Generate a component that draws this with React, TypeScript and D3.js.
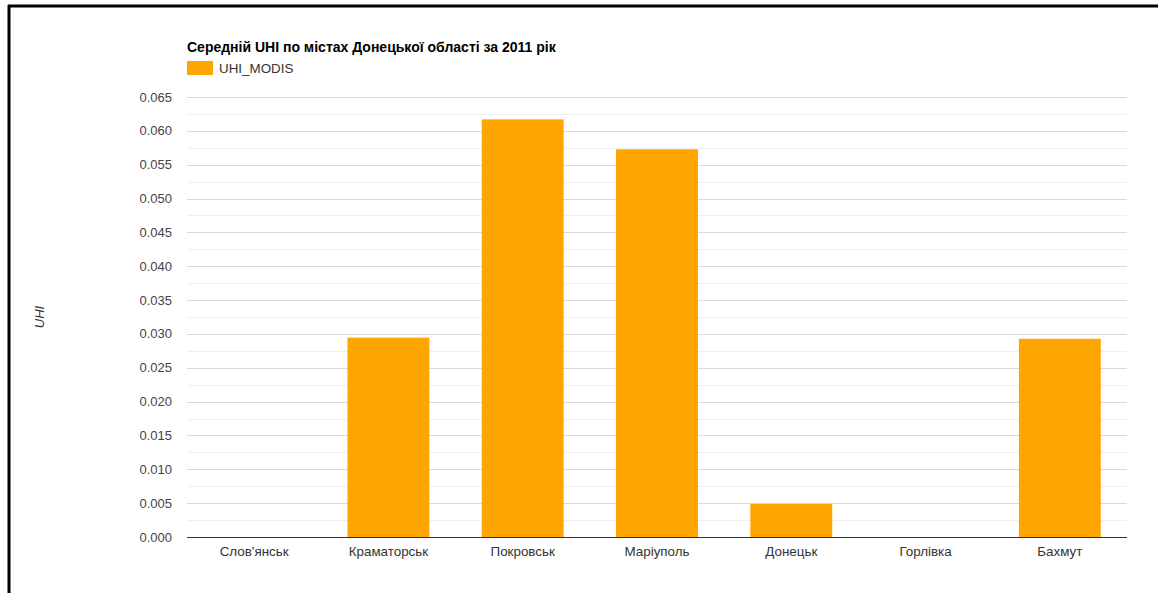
import React, { useEffect, useRef } from "react";
import * as d3 from "d3";

const categories = ["Слов'янськ", "Краматорськ", "Покровськ", "Маріуполь", "Донецьк", "Горлівка", "Бахмут"];
const uhiValues = [0, 0.02945, 0.0617, 0.05727, 0.00488, 0, 0.02928];
const yTicks = [0, 0.005, 0.01, 0.015, 0.02, 0.025, 0.03, 0.035, 0.04, 0.045, 0.05, 0.055, 0.06, 0.065];
const minorTicks = [0.0025, 0.0075, 0.0125, 0.0175, 0.0225, 0.0275, 0.0325, 0.0375, 0.0425, 0.0475, 0.0525, 0.0575, 0.0625];
const title = "Середній UHI по містах Донецької області за 2011 рік";
const seriesName = "UHI_MODIS";
const yAxisTitle = "UHI";

const W = 1158, H = 593;
const M = { left: 187, right: 1127, top: 97, bottom: 537 };
const FONT = "Arial, 'Liberation Sans', sans-serif";
const BAR = "#ffa500";

export default function App() {
  const ref = useRef<SVGSVGElement>(null);
  useEffect(() => {
    const svg = d3.select(ref.current);
    svg.selectAll("*").remove();
    svg.append("rect").attr("width", W).attr("height", H).attr("fill", "#fff");

    const x = d3.scaleBand().domain(categories).range([M.left, M.right]).paddingInner(0.39).paddingOuter(0.195);
    const y = d3.scaleLinear().domain([0, 0.065]).range([M.bottom, M.top]);

    const g = svg.append("g");
    g.selectAll(".minor").data(minorTicks).join("line")
      .attr("x1", M.left).attr("x2", M.right)
      .attr("y1", d => Math.round(y(d)) + 0.5).attr("y2", d => Math.round(y(d)) + 0.5)
      .attr("stroke", "#efefef").attr("stroke-width", 1);
    g.selectAll(".major").data(yTicks.filter(d => d > 0)).join("line")
      .attr("x1", M.left).attr("x2", M.right)
      .attr("y1", d => Math.round(y(d)) + 0.5).attr("y2", d => Math.round(y(d)) + 0.5)
      .attr("stroke", "#d9d9d9").attr("stroke-width", 1);

    g.selectAll(".ylab").data(yTicks).join("text")
      .attr("x", 172).attr("y", d => y(d)).attr("dy", "0.35em")
      .attr("text-anchor", "end").attr("font-family", FONT).attr("font-size", 13)
      .attr("fill", "#444").text(d => d3.format(".3f")(d));

    g.selectAll(".bar").data(categories).join("rect")
      .attr("x", d => x(d)!).attr("width", x.bandwidth())
      .attr("y", (d, i) => y(uhiValues[i])).attr("height", (d, i) => y(0) - y(uhiValues[i]))
      .attr("fill", BAR);

    g.append("line").attr("x1", M.left).attr("x2", M.right)
      .attr("y1", M.bottom + 0.5).attr("y2", M.bottom + 0.5)
      .attr("stroke", "#333").attr("stroke-width", 1);

    g.selectAll(".xlab").data(categories).join("text")
      .attr("x", d => x(d)! + x.bandwidth() / 2).attr("y", 556)
      .attr("text-anchor", "middle").attr("font-family", FONT).attr("font-size", 13.4)
      .attr("fill", "#333").text(d => d);

    svg.append("text").attr("x", 187).attr("y", 52)
      .attr("font-family", FONT).attr("font-size", 14).attr("font-weight", "bold")
      .attr("fill", "#000").text(title);
    svg.append("rect").attr("x", 187).attr("y", 61).attr("width", 26).attr("height", 14).attr("fill", BAR);
    svg.append("text").attr("x", 219).attr("y", 68).attr("dy", "0.35em")
      .attr("font-family", FONT).attr("font-size", 13.4).attr("fill", "#333").text(seriesName);

    svg.append("text").attr("transform", `translate(44,${(M.top + M.bottom) / 2}) rotate(-90)`)
      .attr("text-anchor", "middle").attr("font-family", FONT).attr("font-size", 13)
      .attr("font-style", "italic").attr("fill", "#333").text(yAxisTitle);

    svg.append("line").attr("x1", 8).attr("x2", W).attr("y1", 6).attr("y2", 6).attr("stroke", "#000").attr("stroke-width", 3);
    svg.append("line").attr("x1", 9).attr("x2", 9).attr("y1", 5).attr("y2", H).attr("stroke", "#000").attr("stroke-width", 3);
  }, []);
  return <svg ref={ref} width={W} height={H} style={{ position: "absolute", left: 0, top: 0 }} />;
}
